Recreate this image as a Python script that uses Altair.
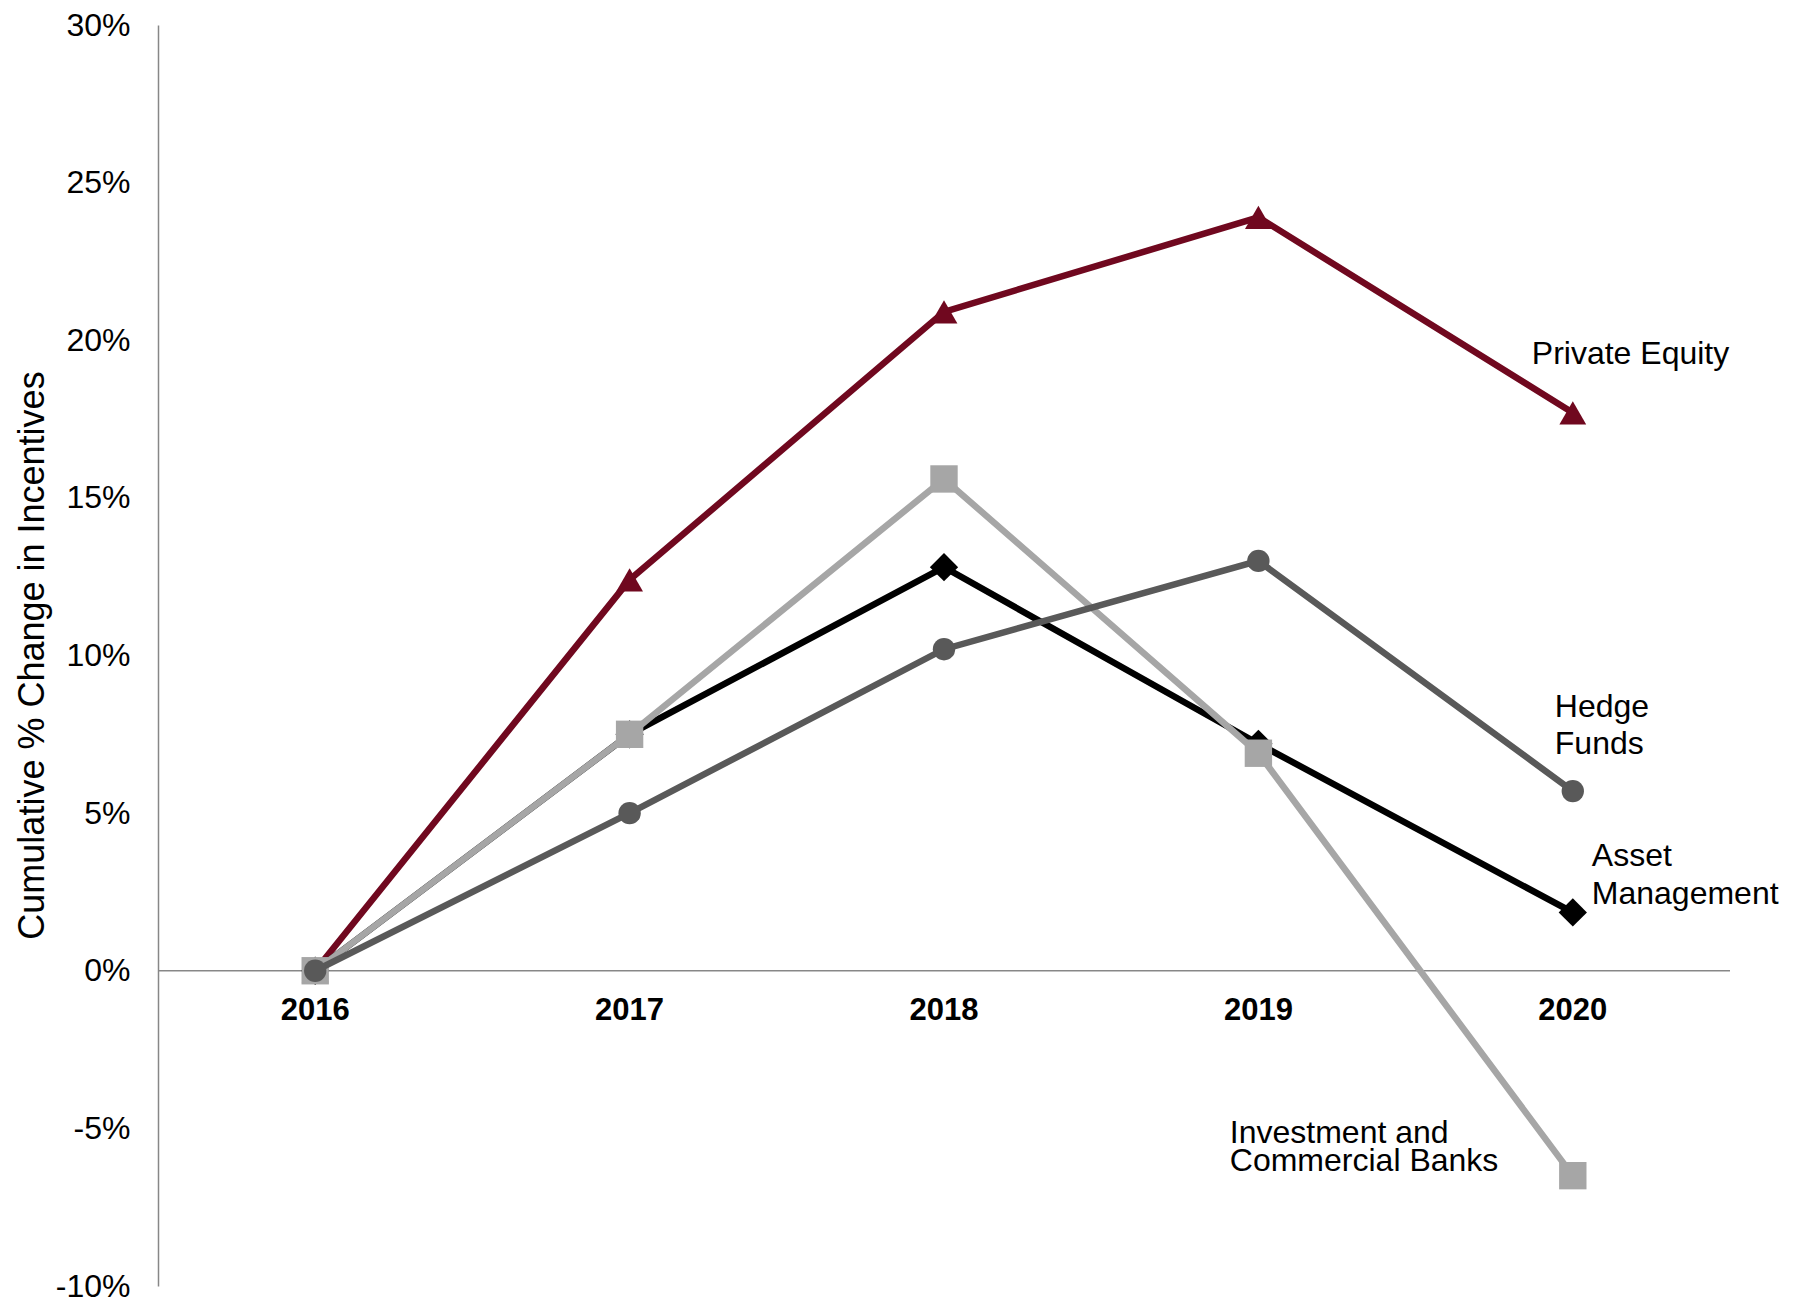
import altair as alt
import pandas as pd

# Cumulative % change in incentives by sector, 2016 = 0%
years = ["2016", "2017", "2018", "2019", "2020"]
private_equity = [0.0, 12.4, 20.9, 23.9, 17.7]
hedge_funds = [0.0, 5.0, 10.2, 13.0, 5.7]
asset_management = [0.0, 7.5, 12.8, 7.2, 1.85]
investment_banks = [0.0, 7.5, 15.6, 6.9, -6.5]

series_names = ["Private Equity", "Asset Management", "Investment and Commercial Banks", "Hedge Funds"]
series_values = [private_equity, asset_management, investment_banks, hedge_funds]
series_labels = ["Private Equity", "Asset\nManagement", "Investment and\nCommercial Banks", "Hedge\nFunds"]
y_ticks = [-10, -5, 0, 5, 10, 15, 20, 25, 30]

# Styling per series (drawn bottom to top)
styles = {
    "Private Equity": dict(color="#70081f", shape="triangle-up", size=720, dx=-41, dy=-49, lh=37),
    "Asset Management": dict(color="#000000", shape="diamond", size=800, dx=19, dy=-46, lh=38),
    "Investment and Commercial Banks": dict(color="#a6a6a6", shape="square", size=750, dx=-343, dy=-33, lh=28),
    "Hedge Funds": dict(color="#595959", shape="circle", size=500, dx=-18, dy=-74, lh=37),
}

FONT = "Liberation Sans"

x_enc = alt.X(
    "year:O",
    scale=alt.Scale(type="point", padding=0.5, domain=years),
    axis=None,
)
y_enc = alt.Y(
    "value:Q",
    scale=alt.Scale(domain=[-10, 30], nice=False, zero=False),
    axis=alt.Axis(
        values=y_ticks,
        labelExpr="datum.value + '%'",
        grid=False,
        ticks=False,
        domainColor="#878787",
        domainWidth=1.5,
        labelFont=FONT,
        labelFontSize=32,
        labelColor="#000000",
        labelPadding=28,
        title="Cumulative % Change in Incentives",
        titleFont=FONT,
        titleFontSize=36,
        titleFontWeight="normal",
        titleColor="#000000",
        titleBaseline="middle",
        titleX=-126,
        titleY=630,
    ),
)

# Horizontal zero line across the plot
zero_df = pd.DataFrame({"value": [0.0]})
zero_rule = alt.Chart(zero_df).mark_rule(color="#878787", strokeWidth=1.5).encode(y=y_enc)

# Year labels sitting just under the zero line
year_df = pd.DataFrame({"year": years, "value": [0.0] * len(years)})
year_text = alt.Chart(year_df).mark_text(
    font=FONT, fontSize=31, fontWeight="bold", color="#000000",
    align="center", baseline="alphabetic", dy=49,
).encode(x=x_enc, y=y_enc, text="year:N")

layers = [zero_rule, year_text]
for name, vals, label in zip(series_names, series_values, series_labels):
    st = styles[name]
    df = pd.DataFrame({"year": years, "value": vals, "series": name})
    line = alt.Chart(df).mark_line(color=st["color"], strokeWidth=6.5).encode(x=x_enc, y=y_enc)
    pts = alt.Chart(df).mark_point(
        shape=st["shape"], size=st["size"], filled=True, opacity=1,
        color=st["color"], strokeWidth=0,
    ).encode(x=x_enc, y=y_enc)
    layers += [line, pts]

for name, vals, label in zip(series_names, series_values, series_labels):
    st = styles[name]
    lab_df = pd.DataFrame({"year": [years[-1]], "value": [vals[-1]], "label": [label]})
    txt = alt.Chart(lab_df).mark_text(
        font=FONT, fontSize=32, color="#000000", align="left", baseline="alphabetic",
        dx=st["dx"], dy=st["dy"], lineBreak="\n", lineHeight=st["lh"],
    ).encode(x=x_enc, y=y_enc, text="label:N")
    layers.append(txt)

chart = (
    alt.layer(*layers)
    .properties(
        width=1572,
        height=1261,
        autosize=alt.AutoSizeParams(type="none"),
        padding={"left": 158, "top": 25, "right": 67, "bottom": 16},
        background="#ffffff",
    )
    .configure_view(stroke=None)
)

chart.save("out.html", embed_options={"renderer": "svg", "actions": False})
